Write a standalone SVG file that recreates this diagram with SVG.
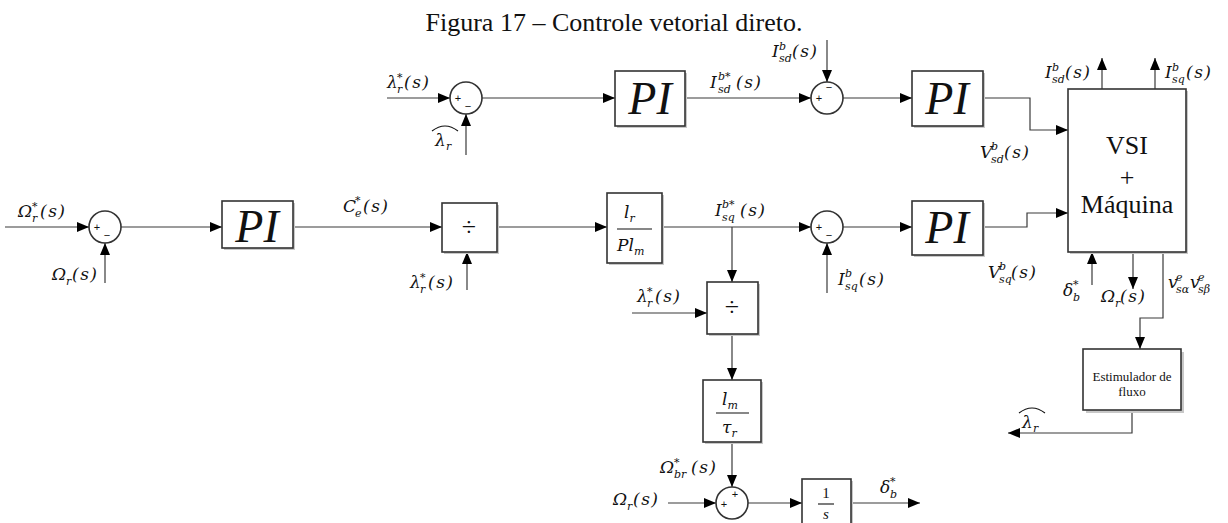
<svg xmlns="http://www.w3.org/2000/svg" width="1228" height="523" viewBox="0 0 1228 523">
<style>
.ln{stroke:#3a3a3a;stroke-width:1.2;fill:none}
.bx{fill:#fff;stroke:#333;stroke-width:1.6}
.sh{fill:#c8c8c8;stroke:none}
.m{font-family:"DejaVu Serif","Liberation Serif",serif;font-style:italic;font-size:17px;fill:#111}
.s{font-size:11px}
.ps{letter-spacing:1.5px}
.sg{font-family:"Liberation Sans",sans-serif;font-size:11px;fill:#111;text-anchor:middle}
.pi{font-family:"Liberation Serif",serif;font-style:italic;font-size:46px;fill:#111;text-anchor:middle}
.t{font-family:"Liberation Serif","Times New Roman",serif;fill:#111;text-anchor:middle}
.hat{stroke:#111;stroke-width:1.1;fill:none}
</style>
<defs>
<marker id="ar" viewBox="0 0 12 10" refX="12" refY="5" markerWidth="12" markerHeight="10" markerUnits="userSpaceOnUse" orient="auto"><path d="M0,0 L12,5 L0,10 z" fill="#000"/></marker>
</defs>
<rect width="1228" height="523" fill="#fff"/>
<text class="t" x="614" y="31" font-size="26">Figura 17 – Controle vetorial direto.</text>

<g id="connectors" class="ln" marker-end="url(#ar)">
<path d="M387,98 H450"/>
<path d="M466,155 V114"/>
<path d="M482,98 H615"/>
<path d="M685,98 H811"/>
<path d="M827,40 V82"/>
<path d="M843,98 H912"/>
<path d="M983,98 H1030 V130 H1068"/>
<path d="M5,227 H89"/>
<path d="M105,283 V243"/>
<path d="M121,227 H222"/>
<path d="M293,227 H442"/>
<path d="M467,290 V252"/>
<path d="M497,227 H607"/>
<path d="M662,227 H811"/>
<path d="M827,293 V243"/>
<path d="M843,227 H912"/>
<path d="M983,227 H1027 V213 H1068"/>
<path d="M732,227 V282"/>
<path d="M632,313 H707"/>
<path d="M732,334 V380"/>
<path d="M732,442 V487"/>
<path d="M668,503 H716"/>
<path d="M748,503 H802"/>
<path d="M851,503 H920"/>
<path d="M1102,89 V58"/>
<path d="M1155,89 V58"/>
<path d="M1092,285 V252"/>
<path d="M1133,252 V289"/>
<path d="M1163,252 V318 H1140 V349"/>
<path d="M1132,410 V433 H1008"/>
</g>

<g id="sum_flux">
<circle class="bx" cx="466" cy="98" r="16"/>
<text class="sg" x="458" y="102">+</text><text class="sg" x="468" y="110">−</text>
</g>
<g id="pi_flux">
<rect class="sh" x="617" y="73" width="70" height="55"/>
<rect class="bx" x="615" y="71" width="70" height="55"/>
<text class="pi" x="650" y="114">PI</text>
</g>
<g id="sum_isd">
<circle class="bx" cx="827" cy="98" r="16"/>
<text class="sg" x="819" y="102">+</text><text class="sg" x="829" y="91">−</text>
</g>
<g id="pi_isd">
<rect class="sh" x="914" y="73" width="71" height="55"/>
<rect class="bx" x="912" y="71" width="71" height="55"/>
<text class="pi" x="947" y="114">PI</text>
</g>
<g id="vsi">
<rect class="sh" x="1070" y="91" width="118" height="163"/>
<rect class="bx" x="1068" y="89" width="118" height="163"/>
<text class="t" x="1127" y="154" font-size="26">VSI</text>
<text class="t" x="1127" y="186" font-size="26">+</text>
<text class="t" x="1127" y="213" font-size="26">Máquina</text>
</g>
<g id="sum_speed">
<circle class="bx" cx="105" cy="227" r="16"/>
<text class="sg" x="97" y="231">+</text><text class="sg" x="107" y="239">−</text>
</g>
<g id="pi_speed">
<rect class="sh" x="224" y="203" width="71" height="47"/>
<rect class="bx" x="222" y="201" width="71" height="47"/>
<text class="pi" x="257" y="242">PI</text>
</g>
<g id="div1">
<rect class="sh" x="444" y="205" width="55" height="49"/>
<rect class="bx" x="442" y="203" width="55" height="49"/>
<text class="t" x="469" y="236" font-size="26">÷</text>
</g>
<g id="gain_lr">
<rect class="sh" x="609" y="195" width="55" height="70"/>
<rect class="bx" x="607" y="193" width="55" height="70"/>
<text class="m" x="624" y="218">l<tspan class="s" dy="4">r</tspan></text>
<line x1="617" y1="229" x2="652" y2="229" stroke="#111" stroke-width="1.1"/>
<text class="m" x="617" y="251">Pl<tspan class="s" dy="4">m</tspan></text>
</g>
<g id="sum_isq">
<circle class="bx" cx="827" cy="227" r="16"/>
<text class="sg" x="819" y="231">+</text><text class="sg" x="829" y="239">−</text>
</g>
<g id="pi_isq">
<rect class="sh" x="914" y="203" width="71" height="54"/>
<rect class="bx" x="912" y="201" width="71" height="54"/>
<text class="pi" x="947" y="243">PI</text>
</g>
<g id="div2">
<rect class="sh" x="709" y="284" width="51" height="52"/>
<rect class="bx" x="707" y="282" width="51" height="52"/>
<text class="t" x="732" y="316" font-size="26">÷</text>
</g>
<g id="gain_lm">
<rect class="sh" x="705" y="382" width="58" height="62"/>
<rect class="bx" x="703" y="380" width="58" height="62"/>
<text class="m" x="722" y="405">l<tspan class="s" dy="4">m</tspan></text>
<line x1="716" y1="413" x2="749" y2="413" stroke="#111" stroke-width="1.1"/>
<text class="m" x="722" y="433">τ<tspan class="s" dy="4">r</tspan></text>
</g>
<g id="sum_slip">
<circle class="bx" cx="732" cy="503" r="16"/>
<text class="sg" x="724" y="508">+</text><text class="sg" x="735" y="498">+</text>
</g>
<g id="integ">
<rect class="sh" x="804" y="481" width="49" height="50"/>
<rect class="bx" x="802" y="479" width="49" height="50"/>
<text class="t" x="826" y="498" font-size="15">1</text>
<line x1="818" y1="504" x2="834" y2="504" stroke="#111" stroke-width="1.1"/>
<text class="t" x="826" y="519" font-size="15" font-style="italic">s</text>
</g>
<g id="estim">
<rect class="sh" x="1086" y="352" width="98" height="61"/>
<rect class="bx" x="1083" y="349" width="98" height="61"/>
<text class="t" x="1132" y="381" font-size="13">Estimulador de</text>
<text class="t" x="1132" y="396" font-size="13">fluxo</text>
</g>

<g id="labels" class="m">
<text><tspan x="387" y="88">λ</tspan><tspan class="s" x="397" y="93">r</tspan><tspan class="s" x="397" y="81">*</tspan><tspan class="ps" x="404" y="88">(s)</tspan></text>
<text><tspan x="435" y="146">λ</tspan><tspan class="s" x="446" y="150">r</tspan></text>
<path class="hat" d="M432,131 Q445,121 458,131"/>
<text><tspan x="710" y="88">I</tspan><tspan class="s" x="718" y="93">sd</tspan><tspan class="s" x="718" y="80">b*</tspan><tspan class="ps" x="736" y="88">(s)</tspan></text>
<text><tspan x="772" y="57">I</tspan><tspan class="s" x="779" y="62">sd</tspan><tspan class="s" x="779" y="50">b</tspan><tspan class="ps" x="792" y="57">(s)</tspan></text>
<text><tspan x="980" y="158">V</tspan><tspan class="s" x="991" y="163">sd</tspan><tspan class="s" x="991" y="150">b</tspan><tspan class="ps" x="1004" y="158">(s)</tspan></text>
<text><tspan x="988" y="278">V</tspan><tspan class="s" x="999" y="283">sq</tspan><tspan class="s" x="999" y="270">b</tspan><tspan class="ps" x="1011" y="278">(s)</tspan></text>
<text><tspan x="1045" y="78">I</tspan><tspan class="s" x="1052" y="83">sd</tspan><tspan class="s" x="1052" y="71">b</tspan><tspan class="ps" x="1065" y="78">(s)</tspan></text>
<text><tspan x="1165" y="78">I</tspan><tspan class="s" x="1172" y="83">sq</tspan><tspan class="s" x="1172" y="71">b</tspan><tspan class="ps" x="1186" y="78">(s)</tspan></text>
<text><tspan x="1063" y="296">δ</tspan><tspan class="s" x="1073" y="301">b</tspan><tspan class="s" x="1073" y="288">*</tspan></text>
<text><tspan x="1101" y="302">Ω</tspan><tspan class="s" x="1115" y="307">r</tspan><tspan class="ps" x="1120" y="302">(s)</tspan></text>
<text><tspan x="1168" y="288">v</tspan><tspan class="s" x="1176" y="293">sα</tspan><tspan class="s" x="1176" y="281">e</tspan><tspan x="1190" y="288">v</tspan><tspan class="s" x="1198" y="293">sβ</tspan><tspan class="s" x="1198" y="281">e</tspan></text>
<text><tspan x="18" y="217">Ω</tspan><tspan class="s" x="32" y="222">r</tspan><tspan class="s" x="32" y="210">*</tspan><tspan class="ps" x="40" y="217">(s)</tspan></text>
<text><tspan x="52" y="280">Ω</tspan><tspan class="s" x="66" y="285">r</tspan><tspan class="ps" x="72" y="280">(s)</tspan></text>
<text><tspan x="343" y="212">C</tspan><tspan class="s" x="355" y="217">e</tspan><tspan class="s" x="355" y="204">*</tspan><tspan class="ps" x="363" y="212">(s)</tspan></text>
<text><tspan x="410" y="288">λ</tspan><tspan class="s" x="420" y="293">r</tspan><tspan class="s" x="420" y="281">*</tspan><tspan class="ps" x="428" y="288">(s)</tspan></text>
<text><tspan x="715" y="216">I</tspan><tspan class="s" x="722" y="221">sq</tspan><tspan class="s" x="722" y="208">b*</tspan><tspan class="ps" x="740" y="216">(s)</tspan></text>
<text><tspan x="838" y="285">I</tspan><tspan class="s" x="845" y="290">sq</tspan><tspan class="s" x="845" y="277">b</tspan><tspan class="ps" x="859" y="285">(s)</tspan></text>
<text><tspan x="637" y="302">λ</tspan><tspan class="s" x="647" y="307">r</tspan><tspan class="s" x="647" y="295">*</tspan><tspan class="ps" x="655" y="302">(s)</tspan></text>
<text><tspan x="660" y="473">Ω</tspan><tspan class="s" x="674" y="478">br</tspan><tspan class="s" x="674" y="466">*</tspan><tspan class="ps" x="691" y="473">(s)</tspan></text>
<text><tspan x="613" y="505">Ω</tspan><tspan class="s" x="627" y="510">r</tspan><tspan class="ps" x="633" y="505">(s)</tspan></text>
<text><tspan x="880" y="493">δ</tspan><tspan class="s" x="890" y="498">b</tspan><tspan class="s" x="890" y="485">*</tspan></text>
<text><tspan x="1022" y="428">λ</tspan><tspan class="s" x="1033" y="432">r</tspan></text>
<path class="hat" d="M1019,413 Q1032,403 1045,413"/>
</g>
</svg>
